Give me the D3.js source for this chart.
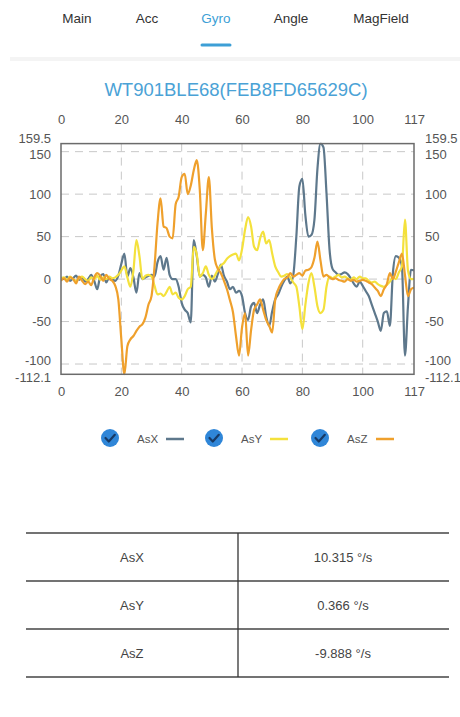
<!DOCTYPE html>
<html>
<head>
<meta charset="utf-8">
<script src="https://cdn.jsdelivr.net/npm/d3@7"></script>
<style>
  html, body { margin: 0; padding: 0; background: #ffffff; }
  svg { display: block; font-family: "Liberation Sans", Arial, sans-serif; }
</style>
</head>
<body>
<svg id="chart" width="460" height="717"></svg>
<script>
// Navigation tabs
const tabs = ["Main", "Acc", "Gyro", "Angle", "MagField"];
const activeTab = "Gyro";
const deviceTitle = "WT901BLE68(FEB8FD65629C)";

// Gyroscope samples (°/s), index 0..117
const asX = [2, 0, 3, -2, 1, 4, -1, 2, -3, 0, 5, -2, -12, 3, 6, -4, 2, 0, -2, 4,
  18, 30, 3, 13, 2, -16, 7, 0, 2, 4, 5, 3, 20, 27, 11, 25, 5, 0, 0, -9,
  -28, -36, -40, -51, 46, 27, 3, 5, 2, -9, 4, -3, 6, 17, 4, -3, -12, -9, -16, -14,
  -20, -40, -48, -32, -28, -40, -30, -24, -44, -55, -38, -24, -18, -9, -2, 3, -5, 5, 50, 109,
  118, 75, 50, 52, 70, 130, 159.5, 155, 101, 35, 12, 8, 5, 6, 8, 6, 1, -5, -9, -3,
  -8, -14, -20, -30, -40, -50, -61, -40, -38, -55, 7, 27, 25, 15, -90, -32, 11, 10.315];

const asY = [0, 2, -1, 3, 0, -2, 1, 3, 0, -2, 2, 0, 4, -1, 2, 0, 3, 1, 2, 5,
  10, 15, 2, -9, 10, 46, 27, 0, 4, 5, 3, -8, -18, -17, -20, -15, -9, -18, -16, -22,
  -24, -20, -12, -9, 38, 29, 3, 7, 15, 5, 0, 4, 11, 16, 19, 24, 27, 29, 30, 22,
  35, 58, 73, 62, 38, 34, 48, 56, 42, 46, 30, 15, 8, 3, 4, 6, 2, -4, -9, -32,
  -59, -30, -5, 7, -9, -32, -40, -36, -9, 3, 1, 3, 5, 2, 3, 1, -1, 2, 0, 3,
  1, 1, -2, -4, -3, -6, -8, -9, -7, -3, 2, 0, 8, 15, 70, 10, 0, 0.366];

const asZ = [-2, 1, -3, 2, 0, -5, 3, -2, -6, -3, -7, 2, 7, 4, -2, 5, 0, -2, -8, -24,
  -71, -112.1, -79, -71, -67, -61, -56, -53, -45, -30, -20, 15, 66, 95, 62, 60, 50, 48, 88, 97,
  120, 124, 100, 110, 128, 140, 105, 34, 77, 120, 60, 23, 12, 7, -2, -12, -25, -39, -67, -90,
  -57, -40, -90, -60, -36, -30, -24, -36, -48, -55, -63, -24, -12, -5, 0, 2, 7, 3, 5, 7,
  4, 10, 11, 14, 25, 44, 22, 3, 5, 2, 0, 1, -1, -2, -3, 0, -2, -1, -3, -2,
  -1, -2, -4, -6, -10, -14, -20, -12, -6, 7, 0, 9, 20, 30, 5, -20, -12, -9.888];

const seriesNames = ["AsX", "AsY", "AsZ"];
const seriesColors = ["#5e788c", "#f4e13c", "#efa02c"];
const seriesData = [asX, asY, asZ];

// Axis ticks
const xTicks = [0, 20, 40, 60, 80, 100, 117];
const yTicks = [-100, -50, 0, 50, 100, 150];
const yMin = -112.1, yMax = 159.5;

// Current readings table
const unit = "°/s";
const currentValues = ["10.315", "0.366", "-9.888"];

const svg = d3.select("#chart");

// ---- tab bar ----
const tabPos = { "Main": 77, "Acc": 147, "Gyro": 216, "Angle": 291, "MagField": 381 };
svg.selectAll("text.tab").data(tabs).join("text")
  .attr("class", "tab")
  .attr("x", d => tabPos[d])
  .attr("y", 23)
  .attr("text-anchor", "middle")
  .attr("font-size", 13.5)
  .attr("fill", d => d === activeTab ? "#3d9fd6" : "#333")
  .text(d => d);
svg.append("line")
  .attr("x1", tabPos[activeTab] - 14).attr("x2", tabPos[activeTab] + 14)
  .attr("y1", 45).attr("y2", 45)
  .attr("stroke", "#3d9fd6").attr("stroke-width", 3).attr("stroke-linecap", "round");
svg.append("rect").attr("x", 10).attr("y", 57).attr("width", 450).attr("height", 4)
  .attr("fill", "#f4f4f4");

// ---- title ----
svg.append("text")
  .attr("x", 236).attr("y", 96)
  .attr("text-anchor", "middle")
  .attr("font-size", 18.5)
  .attr("fill", "#4aa2d6")
  .text(deviceTitle);

// ---- chart ----
const plotLeft = 61, plotRight = 414, plotTop = 143.6, plotBottom = 374.3;
const x = d3.scaleLinear().domain([0, 117]).range([plotLeft, plotRight]);
const y = d3.scaleLinear().domain([yMin, yMax]).range([plotBottom, plotTop]);

const grid = svg.append("g").attr("stroke", "#c8c8c8").attr("stroke-width", 1)
  .attr("stroke-dasharray", "8,6");
grid.selectAll("line.v").data(xTicks.filter(d => d > 0 && d < 117)).join("line")
  .attr("class", "v")
  .attr("x1", d => x(d)).attr("x2", d => x(d))
  .attr("y1", plotTop).attr("y2", plotBottom);
grid.selectAll("line.h").data(yTicks).join("line")
  .attr("class", "h")
  .attr("x1", plotLeft).attr("x2", plotRight)
  .attr("y1", d => y(d)).attr("y2", d => y(d));

svg.append("clipPath").attr("id", "plotclip")
  .append("rect").attr("x", plotLeft).attr("y", plotTop - 1)
  .attr("width", plotRight - plotLeft).attr("height", plotBottom - plotTop + 2);

const line = d3.line()
  .x((d, i) => x(i))
  .y(d => y(d))
  .curve(d3.curveMonotoneX);

svg.append("g").attr("clip-path", "url(#plotclip)")
  .selectAll("path").data(seriesData).join("path")
  .attr("d", d => line(d))
  .attr("fill", "none")
  .attr("stroke", (d, i) => seriesColors[i])
  .attr("stroke-width", 2.2)
  .attr("stroke-linejoin", "round");

svg.append("rect")
  .attr("x", plotLeft).attr("y", plotTop)
  .attr("width", plotRight - plotLeft).attr("height", plotBottom - plotTop)
  .attr("fill", "none").attr("stroke", "#6b6b6b").attr("stroke-width", 1.5);

// x axes (top and bottom)
const xAxisTop = d3.axisTop(x).tickValues(xTicks).tickSize(0).tickPadding(0).tickFormat(d3.format("d"));
const xAxisBottom = d3.axisBottom(x).tickValues(xTicks).tickSize(0).tickPadding(0).tickFormat(d3.format("d"));
const styleAxis = g => {
  g.select(".domain").remove();
  g.selectAll("text").attr("font-size", 13).attr("fill", "#555")
    .attr("font-family", "'Liberation Sans', Arial, sans-serif");
};
svg.append("g").attr("transform", `translate(0,${plotTop - 20})`).call(xAxisTop).call(styleAxis);
svg.append("g").attr("transform", `translate(0,${plotBottom + 12})`).call(xAxisBottom).call(styleAxis);

// y axes (left and right), with the extremes labelled as well
const yLabels = [yMin].concat(yTicks, [yMax]);
const yAxisLeft = d3.axisLeft(y).tickValues(yLabels).tickSize(0).tickPadding(10).tickFormat(d => String(d));
const yAxisRight = d3.axisRight(y).tickValues(yLabels).tickSize(0).tickPadding(11).tickFormat(d => String(d));
svg.append("g").attr("transform", `translate(${plotLeft},0)`).call(yAxisLeft).call(styleAxis);
svg.append("g").attr("transform", `translate(${plotRight},0)`).call(yAxisRight).call(styleAxis);
// the extreme labels sit just beyond their neighbouring tick labels
svg.selectAll("g.tick text").filter(d => d === yMax).attr("dy", "-0.12em");
svg.selectAll("g.tick text").filter(d => d === 150).attr("dy", "0.5em");
svg.selectAll("g.tick text").filter(d => d === yMin).attr("dy", "0.55em");
svg.selectAll("g.tick text").filter(d => d === -100).attr("dy", "0.0em");

// ---- legend ----
const legendX = [110, 214, 320];
const legend = svg.append("g").selectAll("g").data(seriesNames).join("g")
  .attr("transform", (d, i) => `translate(${legendX[i]},438)`);
legend.append("circle").attr("r", 9).attr("fill", "#2f86d8");
legend.append("path")
  .attr("d", "M-4.5,0 L-1.2,3.5 L4.8,-3.2")
  .attr("fill", "none").attr("stroke", "#173a66").attr("stroke-width", 2.2)
  .attr("stroke-linecap", "round").attr("stroke-linejoin", "round");
legend.append("text").attr("x", 27).attr("y", 4.5)
  .attr("font-size", 11.5).attr("fill", "#555").text(d => d);
legend.append("line")
  .attr("x1", 56).attr("x2", 74)
  .attr("y1", 1).attr("y2", 1)
  .attr("stroke", (d, i) => seriesColors[i]).attr("stroke-width", 2.5);

// ---- readings table ----
const tLeft = 26, tRight = 449, tDiv = 238, tTop = 533, rowH = 48;
const table = svg.append("g");
d3.range(seriesNames.length + 1).forEach(r => {
  table.append("line")
    .attr("x1", tLeft).attr("x2", tRight)
    .attr("y1", tTop + r * rowH).attr("y2", tTop + r * rowH)
    .attr("stroke", "#444").attr("stroke-width", 1.3);
});
table.append("line")
  .attr("x1", tDiv).attr("x2", tDiv)
  .attr("y1", tTop).attr("y2", tTop + seriesNames.length * rowH)
  .attr("stroke", "#333").attr("stroke-width", 1.3);
table.selectAll("text.name").data(seriesNames).join("text")
  .attr("class", "name")
  .attr("x", 132).attr("y", (d, i) => tTop + i * rowH + 29)
  .attr("text-anchor", "middle").attr("font-size", 13).attr("fill", "#444")
  .text(d => d);
table.selectAll("text.val").data(currentValues).join("text")
  .attr("class", "val")
  .attr("x", 343).attr("y", (d, i) => tTop + i * rowH + 29)
  .attr("text-anchor", "middle").attr("font-size", 13).attr("fill", "#444")
  .text(d => `${d} ${unit}`);
</script>
</body>
</html>
